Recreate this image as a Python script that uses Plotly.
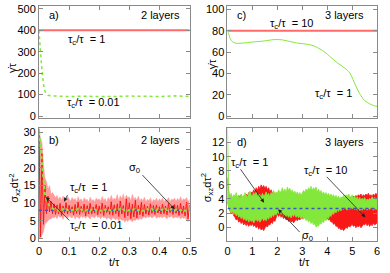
import numpy as np
import plotly.graph_objects as go

W, H = 390, 273

# ---------------- data ----------------
# panel a (2 layers): shear rate
ta_red = [0.0, 0.5]
ga_red = [400, 400]                      # tau_c/tau = 1
ta_green = [0, 0.002, 0.004, 0.006, 0.008, 0.01, 0.013, 0.016, 0.02, 0.025, 0.03,
            0.04, 0.05, 0.07, 0.1, 0.13, 0.16, 0.2, 0.25, 0.3, 0.35, 0.4, 0.45, 0.48, 0.5]
ga_green = [400, 370, 335, 290, 250, 210, 170, 140, 115, 103, 97,
            94, 93, 92, 91, 92, 91, 92, 91, 93, 92, 91, 94, 92, 91]   # tau_c/tau = 0.01

# panel c (3 layers): shear rate
tc_red = [0.0, 6.0]
gc_red = [80, 80]                        # tau_c/tau = 10
tc_green = [0, 0.05, 0.15, 0.3, 0.5, 0.8, 1.0, 1.4, 1.9, 2.2, 2.5, 2.8, 3.2, 3.5,
            3.9, 4.1, 4.4, 4.7, 4.9, 5.15, 5.3, 5.5, 5.7, 5.9, 6.0]
gc_green = [80, 77, 71, 68.5, 68.3, 69, 69.5, 70.3, 71.8, 71.5, 70, 68.5, 67.4, 65.5,
            60, 56, 50, 45, 40.5, 28, 21, 14.5, 11.5, 9.5, 9]     # tau_c/tau = 1

# panel b (2 layers): stress, time grid 0..0.5 step 0.005
tb_step = 0.005
sb_red = [31, 0.5, 24, 4, 15, 7, 12, 7.5, 10.5, 7, 9.8,
          6.8, 9.5, 7.0, 9.9, 6.5, 9.2, 7.2, 10.1, 6.9, 9.4,
          7.3, 9.0, 6.6, 9.6, 7.1, 10.3, 6.8, 9.1, 7.4, 9.7,
          6.4, 9.3, 7.0, 9.9, 6.9, 8.9, 7.2, 9.6, 6.7, 9.2,
          7.1, 10.0, 6.5, 9.4, 7.3, 9.0, 6.8, 10.4, 6.6, 9.5,
          7.0, 9.8, 6.2, 10.6, 6.9, 9.3, 5.9, 11.2, 6.4, 10.1,
          5.6, 9.7, 6.1, 10.8, 5.8, 9.4, 6.7, 10.2, 6.3, 9.6,
          6.9, 9.1, 6.6, 9.8, 7.1, 9.3, 6.8, 9.5, 7.2, 9.0,
          6.9, 9.7, 7.0, 9.2, 6.7, 9.9, 7.3, 9.1, 6.8, 9.6,
          7.1, 9.4, 6.5, 9.9, 7.0, 9.2, 6.4, 10.3, 5.6, 9.5]
sb_pink_hi = [30, 28, 27, 21, 17, 16, 14, 15, 12.5, 13, 12,
              11.5, 12.2, 11.0, 11.8, 10.8, 12.0, 11.2, 10.6, 11.9, 11.0,
              10.5, 11.6, 10.9, 11.3, 10.4, 11.8, 10.7, 11.2, 10.3, 11.5,
              10.8, 11.1, 10.2, 11.7, 10.6, 11.0, 10.4, 11.4, 10.9, 11.2,
              10.5, 11.9, 10.7, 11.3, 10.2, 11.6, 10.8, 12.2, 10.9, 11.4,
              11.0, 12.4, 10.6, 12.1, 11.2, 12.6, 10.9, 12.3, 11.5, 11.8,
              10.7, 12.5, 11.1, 11.6, 10.8, 12.0, 10.5, 11.3, 10.6, 11.7,
              10.3, 11.1, 10.6, 11.5, 10.2, 11.0, 10.7, 11.4, 10.4, 11.2,
              10.6, 11.5, 10.3, 11.0, 10.8, 11.6, 10.4, 11.1, 10.9, 11.4,
              10.5, 11.3, 10.7, 11.8, 10.6, 11.2, 10.9, 11.6, 10.4, 11.0]
sb_pink_lo = [0, 0, 1, 2, 4, 4.5, 5, 5.5, 5.5, 6, 5.8,
              6.2, 5.6, 6.5, 5.9, 6.3, 5.4, 6.6, 6.0, 5.7, 6.4,
              6.1, 5.8, 6.6, 5.5, 6.2, 6.0, 5.6, 6.5, 5.9, 6.3,
              5.7, 6.4, 6.0, 5.5, 6.3, 6.1, 5.8, 6.6, 5.9, 6.2,
              5.6, 6.3, 5.8, 6.1, 5.4, 6.0, 5.7, 5.2, 5.9, 5.5,
              5.3, 5.8, 4.9, 5.6, 5.1, 5.4, 4.6, 5.2, 4.8, 5.5,
              5.0, 4.7, 5.3, 5.1, 5.6, 5.2, 5.8, 5.4, 5.9, 6.1,
              5.7, 6.2, 5.9, 6.3, 5.8, 6.0, 6.4, 5.7, 6.1, 5.9,
              6.2, 5.8, 6.3, 6.0, 5.6, 6.2, 5.9, 6.4, 5.7, 6.0,
              6.1, 5.8, 6.3, 5.5, 6.0, 5.7, 5.9, 5.2, 4.8, 5.4]
sb_green = [30, 27, 21, 16, 12.5, 10.8, 9.8, 9.1, 8.7, 8.5, 8.3,
            8.1, 8.4, 7.9, 8.2, 8.0, 8.3, 7.8, 8.2, 8.1, 7.9,
            8.3, 8.0, 8.2, 7.8, 8.1, 8.4, 7.9, 8.2, 8.0, 8.3,
            7.9, 8.1, 8.3, 7.8, 8.2, 8.0, 8.4, 7.9, 8.1, 8.2,
            7.8, 8.3, 8.0, 8.2, 7.9, 8.4, 8.1, 7.8, 8.2, 8.0,
            8.3, 7.9, 8.1, 8.4, 7.8, 8.2, 8.0, 8.3, 7.9, 8.1,
            8.2, 7.8, 8.3, 8.0, 8.2, 7.9, 8.4, 8.1, 7.8, 8.2,
            8.0, 8.3, 7.9, 8.1, 8.4, 7.8, 8.2, 8.0, 8.3, 7.9,
            8.1, 8.2, 7.8, 8.3, 8.0, 8.2, 7.9, 8.4, 8.1, 7.8,
            8.2, 8.0, 8.3, 7.9, 8.1, 8.4, 7.8, 8.2, 8.0, 8.3]
sigma0_b = 8.0

# panel d (3 layers): stress band envelopes, time grid 0..6 step 0.05
td_step = 0.05
sd_green_hi = [14, 5.2, 4.3, 4.8, 4.1, 4.6, 4.4, 4.9, 4.2, 4.5,
               4.0, 4.7, 4.3, 4.4, 4.9, 4.5, 4.2, 4.8, 5.1, 4.6,
               4.4, 4.9, 4.5, 5.0, 4.3, 4.7, 4.6, 4.2, 4.8, 4.4,
               4.6, 5.0, 4.5, 4.8, 4.3, 4.9, 4.7, 5.2, 4.6, 5.0,
               4.8, 5.3, 4.9, 5.1, 5.6, 5.0, 5.4, 4.9, 5.7, 5.2,
               5.5, 5.0, 5.3, 4.8, 5.1, 4.7, 5.0, 4.6, 4.9, 4.5,
               4.8, 5.2, 4.9, 5.4, 5.1, 5.6, 5.3, 5.8, 5.2, 5.6,
               5.3, 5.7, 5.0, 5.4, 4.9, 5.2, 4.7, 5.0, 4.6, 4.9,
               4.5, 4.8, 4.4, 4.7, 4.3, 4.6, 4.2, 4.5, 4.1, 4.4,
               4.0, 4.3, 4.1, 4.5, 4.2, 4.6, 4.3, 4.7, 4.4, 4.2,
               4.6, 4.1, 4.4, 4.0, 4.3, 3.9, 4.2, 3.8, 4.1, 3.9,
               4.2, 3.7, 4.0, 3.8, 4.1, 3.9, 4.3, 4.0, 4.2, 3.9,
               4.1]
sd_green_lo = [3.2, 2.7, 2.4, 2.0, 2.3, 1.8, 2.1, 1.6, 1.9, 1.4,
               1.6, 1.2, 1.5, 1.0, 1.3, 0.9, 1.2, 0.7, 1.1, 0.8,
               1.0, 0.6, 0.9, 1.2, 0.8, 1.1, 0.7, 1.0, 1.3, 0.9,
               1.2, 0.9, 1.4, 1.1, 1.6, 1.3, 1.8, 1.5, 2.0, 1.7,
               2.2, 1.9, 2.3, 1.8, 2.1, 1.6, 1.9, 1.5, 1.8, 1.4,
               1.7, 1.3, 1.8, 1.5, 1.9, 1.4, 1.7, 1.3, 1.6, 1.2,
               1.5, 1.1, 1.4, 0.9, 1.2, 0.7, 1.0, 0.5, 0.8, 0.3,
               0.5, 0.0, 0.3, 0.1, 0.6, 0.4, 0.9, 0.6, 1.1, 0.9,
               1.4, 1.2, 1.7, 1.5, 2.0, 1.8, 2.3, 2.0, 2.5, 2.2,
               2.6, 2.3, 2.8, 2.5, 2.9, 2.6, 2.4, 2.8, 2.5, 2.9,
               2.6, 2.9, 2.5, 2.8, 2.4, 2.7, 2.3, 2.6, 2.4, 2.7,
               2.5, 2.8, 2.4, 2.7, 2.5, 2.9, 2.6, 2.4, 2.7, 2.5,
               2.6]
sd_red_hi = [7.0, 4.8, 4.1, 4.5, 3.9, 4.3, 4.0, 4.4, 4.1, 4.5,
             4.2, 4.6, 4.0, 4.4, 4.3, 4.7, 4.4, 4.9, 4.6, 5.0,
             4.8, 5.3, 5.0, 5.6, 5.2, 5.8, 5.4, 6.0, 5.6, 5.9,
             5.5, 5.8, 5.3, 5.6, 5.0, 5.3, 4.8, 5.0, 4.6, 4.8,
             4.4, 4.7, 4.3, 4.6, 4.2, 4.5, 4.3, 4.6, 4.2, 4.5,
             4.3, 4.6, 4.1, 4.4, 4.2, 4.5, 4.1, 4.4, 4.2, 4.0,
             4.3, 4.1, 4.4, 4.2, 4.5, 4.3, 4.6, 4.2, 4.5, 4.3,
             4.6, 4.2, 4.4, 4.1, 4.3, 4.0, 4.2, 3.9, 4.1, 3.8,
             4.0, 3.7, 3.9, 3.6, 3.8, 3.5, 3.8, 3.6, 3.9, 3.7,
             3.6, 3.9, 3.7, 4.0, 3.8, 4.1, 3.9, 4.2, 4.0, 4.3,
             4.1, 4.4, 4.2, 4.5, 4.3, 4.6, 4.4, 4.7, 4.3, 4.6,
             4.4, 4.7, 4.5, 4.8, 4.4, 4.6, 4.3, 4.7, 4.5, 4.8,
             4.6]
sd_red_lo = [3.5, 2.8, 2.3, 1.9, 2.1, 1.6, 1.4, 1.0, 1.2, 0.7,
             0.9, 0.5, 0.8, 0.3, 0.6, 0.2, 0.5, 0.1, 0.4, 0.2,
             0.5, 0.1, 0.3, -0.1, 0.2, -0.3, 0.0, -0.4, -0.2, -0.5,
             -0.1, 0.2, 0.0, 0.4, 0.3, 0.7, 0.5, 1.0, 0.8, 1.4,
             1.9, 1.5, 1.8, 1.4, 1.6, 1.2, 1.4, 1.0, 1.2, 0.8,
             1.0, 0.7, 0.9, 0.6, 0.8, 1.1, 0.9, 1.2, 1.0, 1.3,
             1.2, 1.5, 1.3, 1.7, 1.4, 1.8, 1.5, 1.9, 1.6, 1.4,
             1.7, 1.3, 1.6, 1.2, 1.5, 1.1, 1.4, 1.2, 1.5, 1.1,
             1.3, 1.0, 1.1, 0.7, 0.8, 0.4, 0.5, 0.1, 0.2, -0.2,
             -0.1, -0.4, -0.2, -0.5, -0.3, 0.0, -0.2, 0.2, 0.0, 0.3,
             0.4, 0.1, 0.3, -0.1, 0.2, 0.0, 0.3, -0.1, 0.2, 0.4,
             0.3, 0.6, 0.2, 0.5, 0.1, 0.4, 0.2, 0.6, 0.3, 0.5,
             0.6]
sigma0_d = 2.65

tb = np.round(np.arange(len(sb_red)) * tb_step, 4)
td = np.round(np.arange(len(sd_green_hi)) * td_step, 4)

# ---------------- styling ----------------
RED_LINE = "#ff6a6a"
RED = "#f81818"
PINK = "#ff9a9a"
GREEN = "#84e83c"
BLUE = "#3a55cc"
FRAME = "#8a8a8a"
FONT = "Liberation Sans, Arial, sans-serif"


def px(x):
    return x / W


def py(y):
    return 1 - y / H


fig = go.Figure()

# panel a
fig.add_trace(go.Scatter(x=ta_red, y=ga_red, mode="lines", line=dict(color=RED_LINE, width=2),
                         xaxis="x", yaxis="y", showlegend=False))
fig.add_trace(go.Scatter(x=ta_green, y=ga_green, mode="lines",
                         line=dict(color=GREEN, width=1.5, dash="dot"),
                         xaxis="x", yaxis="y", showlegend=False))

# panel b
fig.add_trace(go.Scatter(x=tb, y=sb_pink_lo, mode="lines", line=dict(color=PINK, width=0.5),
                         xaxis="x2", yaxis="y2", showlegend=False))
fig.add_trace(go.Scatter(x=tb, y=sb_pink_hi, mode="lines", line=dict(color=PINK, width=0.5),
                         fill="tonexty", fillcolor=PINK, xaxis="x2", yaxis="y2", showlegend=False))
fig.add_trace(go.Scatter(x=tb, y=sb_red, mode="lines", line=dict(color=RED, width=1),
                         xaxis="x2", yaxis="y2", showlegend=False))
fig.add_trace(go.Scatter(x=[0, 0.5], y=[sigma0_b, sigma0_b], mode="lines",
                         line=dict(color=BLUE, width=1.5, dash="dot"),
                         xaxis="x2", yaxis="y2", showlegend=False))
fig.add_trace(go.Scatter(x=tb, y=sb_green, mode="lines",
                         line=dict(color=GREEN, width=2, dash="dot"),
                         xaxis="x2", yaxis="y2", showlegend=False))

# panel c
fig.add_trace(go.Scatter(x=tc_red, y=gc_red, mode="lines", line=dict(color=RED_LINE, width=2),
                         xaxis="x3", yaxis="y3", showlegend=False))
fig.add_trace(go.Scatter(x=tc_green, y=gc_green, mode="lines", line=dict(color=GREEN, width=1),
                         line_shape="spline", xaxis="x3", yaxis="y3", showlegend=False))

# panel d
fig.add_trace(go.Scatter(x=td, y=sd_red_lo, mode="lines", line=dict(color=RED, width=0.8),
                         xaxis="x4", yaxis="y4", showlegend=False))
fig.add_trace(go.Scatter(x=td, y=sd_red_hi, mode="lines", line=dict(color=RED, width=0.8),
                         fill="tonexty", fillcolor=RED, xaxis="x4", yaxis="y4", showlegend=False))
fig.add_trace(go.Scatter(x=td, y=sd_green_lo, mode="lines", line=dict(color=GREEN, width=0.8),
                         xaxis="x4", yaxis="y4", showlegend=False))
fig.add_trace(go.Scatter(x=td, y=sd_green_hi, mode="lines", line=dict(color=GREEN, width=0.8),
                         fill="tonexty", fillcolor=GREEN, xaxis="x4", yaxis="y4", showlegend=False))
fig.add_trace(go.Scatter(x=[0, 6], y=[sigma0_d, sigma0_d], mode="lines",
                         line=dict(color=BLUE, width=1.5, dash="dot"),
                         xaxis="x4", yaxis="y4", showlegend=False))

axis_common = dict(showline=True, linecolor=FRAME, linewidth=1, mirror="allticks",
                   ticks="inside", ticklen=4, tickcolor=FRAME, showgrid=False,
                   zeroline=False, ticklabeloverflow="allow",
                   tickfont=dict(family=FONT, size=11, color="black"))

left_dom = [px(37), px(192)]
right_dom = [px(231), px(385)]
top_dom = [py(118), py(3)]
bot_dom = [py(244), py(128)]

fig.update_layout(
    width=W, height=H, margin=dict(l=0, r=0, t=0, b=0),
    paper_bgcolor="white", plot_bgcolor="white",
    font=dict(family=FONT, size=11, color="black"),
    xaxis=dict(domain=left_dom, range=[0, 0.5], dtick=0.1, showticklabels=False,
               anchor="y", **axis_common),
    yaxis=dict(domain=top_dom, range=[-9.1, 513.6], dtick=100, anchor="x", **axis_common),
    xaxis2=dict(domain=left_dom, range=[0, 0.5], dtick=0.1, anchor="y2", **axis_common),
    yaxis2=dict(domain=bot_dom, range=[-0.63, 31.29], dtick=5, anchor="x2", **axis_common),
    xaxis3=dict(domain=right_dom, range=[0, 6], dtick=1, showticklabels=False,
                anchor="y3", **axis_common),
    yaxis3=dict(domain=top_dom, range=[-1.83, 103.4], dtick=20, anchor="x3", **axis_common),
    xaxis4=dict(domain=right_dom, range=[0, 6], tickvals=[0, 1, 2, 3, 4, 5, 6],
                anchor="y4", **axis_common),
    yaxis4=dict(domain=bot_dom, range=[-1.94, 14.12], tickvals=[0, 2, 4, 6, 8, 10, 12],
                anchor="x4", **axis_common),
)

ann = []


def label(text, x, y, angle=0, xanchor="center"):
    ann.append(dict(text=text, x=px(x), y=py(y), xref="paper", yref="paper",
                    showarrow=False, textangle=angle, xanchor=xanchor, yanchor="middle",
                    font=dict(family=FONT, size=11, color="black")))


def arrow(xr, yr, tipx, tipy, tailx_px, taily_px, tipx_px, tipy_px):
    ann.append(dict(text="", x=tipx, y=tipy, xref=xr, yref=yr, showarrow=True,
                    ax=tailx_px - tipx_px, ay=taily_px - tipy_px,
                    arrowhead=2, arrowsize=1, arrowwidth=0.8, arrowcolor="#222222"))


TC = "τ<sub>c</sub>/τ  = "
# axis titles
label("γ̇τ", 10, 66, angle=-90)
label("σ<sub>xz</sub>dτ<sup>2</sup>", 12, 190, angle=-90)
label("γ̇τ", 216, 62, angle=-90)
label("σ<sub>xz</sub>dτ<sup>2</sup>", 210, 190, angle=-90)
label("t/τ", 115, 266)
label("t/τ", 310, 266)
# panel tags
label("a)", 45, 12, xanchor="left")
label("2 layers", 184, 12, xanchor="right")
label("b)", 45, 141, xanchor="left")
label("2 layers", 184, 141, xanchor="right")
label("c)", 239, 12, xanchor="left")
label("3 layers", 374, 12, xanchor="right")
label("d)", 239, 143, xanchor="left")
label("3 layers", 374, 143, xanchor="right")
# curve labels
label(TC + "1", 86, 38)
label(TC + "0.01", 93, 103)
label(TC + "10", 297, 22)
label(TC + "1", 340, 93)
label("σ<sub>0</sub>", 135, 169)
label(TC + "1", 88, 190)
label(TC + "0.01", 96, 229)
label(TC + "1", 254, 164)
label(TC + "10", 332, 172)
label("σ<sub>0</sub>", 313, 239)

# arrows (tip in data coordinates, tail as pixel offset)
arrow("x2", "y2", 0.4506, 8.26, 143, 176, 176.7, 211.7)
arrow("x2", "y2", 0.083, 10.4, 67, 196, 62.7, 204)
arrow("x2", "y2", 0.0226, 11.75, 69, 224, 44, 199)
arrow("x4", "y4", 1.47, 3.46, 244, 170, 268.7, 205)
arrow("x4", "y4", 5.53, 1.38, 333, 178, 373, 220)
arrow("x4", "y4", 2.03, 2.53, 306, 236, 283, 211.7)

fig.update_layout(annotations=ann)
fig.write_html("out.html",
               config={"displayModeBar": False, "staticPlot": True},
               post_script="document.body.style.margin='0';document.body.style.overflow='hidden';")
